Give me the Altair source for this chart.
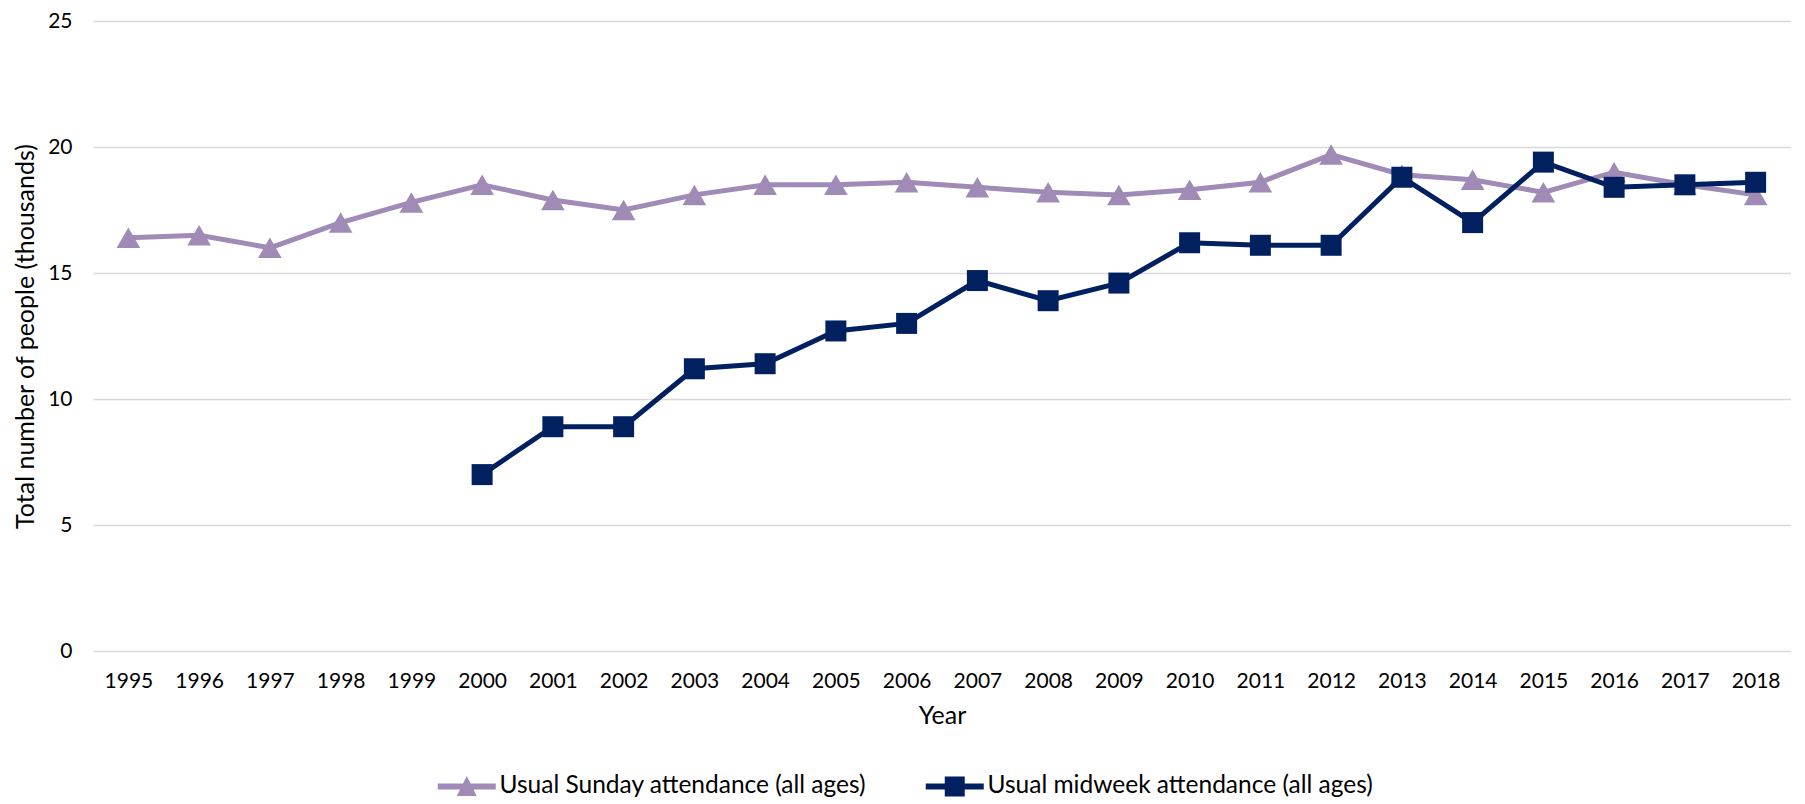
import altair as alt
import pandas as pd

years = [str(y) for y in range(1995, 2019)]
sunday = [16.4, 16.5, 16.0, 17.0, 17.8, 18.5, 17.9, 17.5, 18.1, 18.5, 18.5, 18.6,
          18.4, 18.2, 18.1, 18.3, 18.6, 19.7, 18.9, 18.7, 18.2, 19.0, 18.5, 18.1]
midweek_years = [str(y) for y in range(2000, 2019)]
midweek = [7.0, 8.9, 8.9, 11.2, 11.4, 12.7, 13.0, 14.7, 13.9, 14.6, 16.2, 16.1,
           16.1, 18.8, 17.0, 19.4, 18.4, 18.5, 18.6]

S_NAME = "Usual Sunday attendance (all ages)"
M_NAME = "Usual midweek attendance (all ages)"
PURPLE = "#A08AB6"
NAVY = "#002060"
FONT = "Lato"

rows = [{"year": y, "value": v, "series": S_NAME} for y, v in zip(years, sunday)]
rows += [{"year": y, "value": v, "series": M_NAME} for y, v in zip(midweek_years, midweek)]
df = pd.DataFrame(rows)

color_scale = alt.Scale(domain=[S_NAME, M_NAME], range=[PURPLE, NAVY])
tri_path = "M-2.9,-0.3H2.9V0.3H-2.9Z M0,-1.05L1.0,0.95H-1.0Z"
sq_path = "M-2.9,-0.3H2.9V0.3H-2.9Z M-1.0,-1.0H1.0V1.0H-1.0Z"

x_enc = alt.X("year:O", sort=years, title="Year",
              axis=alt.Axis(labelAngle=0, grid=False, ticks=False, domain=False,
                            labelPadding=19, titlePadding=12))
y_enc = alt.Y("value:Q", title="Total number of people (thousands)",
              scale=alt.Scale(domain=[0, 25], nice=False),
              axis=alt.Axis(values=[0, 5, 10, 15, 20, 25], ticks=False, domain=False,
                            labelPadding=21, titlePadding=9, gridColor="#D9D9D9",
                            gridWidth=1.5))

base = alt.Chart(df)
sun = base.transform_filter(alt.datum.series == S_NAME)
mid = base.transform_filter(alt.datum.series == M_NAME)

legend = alt.Legend(title=None, orient="none", direction="horizontal",
                    legendX=361.5, legendY=753, symbolSize=400, symbolStrokeWidth=0,
                    symbolOpacity=1, labelOffset=20.5, columnPadding=59,
                    labelFontSize=24.5, labelFont=FONT, labelColor="#000",
                    labelLimit=600)

sun_line = sun.mark_line(strokeWidth=5, color=PURPLE).encode(x=x_enc, y=y_enc)
sun_pts = sun.mark_point(shape="triangle-up", filled=True, size=560, opacity=1,
                         color=PURPLE).encode(x=x_enc, y=y_enc)
mid_line = mid.mark_line(strokeWidth=5, color=NAVY).encode(x=x_enc, y=y_enc)
mid_pts = mid.mark_square(size=441, opacity=1, color=NAVY).encode(x=x_enc, y=y_enc)
leg = base.mark_point(filled=True, opacity=0).encode(
    x=x_enc, y=y_enc,
    color=alt.Color("series:N", scale=color_scale, legend=legend),
    shape=alt.Shape("series:N",
                    scale=alt.Scale(domain=[S_NAME, M_NAME], range=[tri_path, sq_path]),
                    legend=legend))

chart = alt.layer(sun_line, sun_pts, mid_line, mid_pts, leg).properties(
    width=1698, height=630,
    padding={"left": 5, "top": 2, "right": 0, "bottom": 0},
).configure_view(stroke=None).configure_axis(
    labelFont=FONT, titleFont=FONT, labelFontSize=21, titleFontSize=25,
    labelColor="#000", titleColor="#000", titleFontWeight="normal"
)

chart.save("out.html", embed_options={"renderer": "svg", "actions": False})
